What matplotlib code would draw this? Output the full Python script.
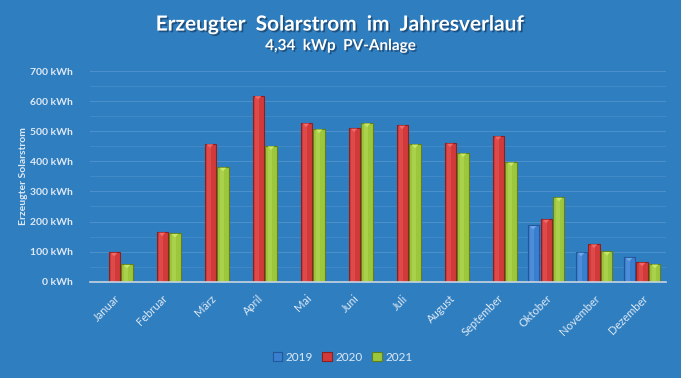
import numpy as np
import matplotlib
matplotlib.use("Agg")
import matplotlib.pyplot as plt
import matplotlib.patheffects as pe

months = ["Januar", "Februar", "März", "April", "Mai", "Juni", "Juli",
          "August", "September", "Oktober", "November", "Dezember"]
years = ["2019", "2020", "2021"]
kwh_2019 = [0, 0, 0, 0, 0, 0, 0, 0, 0, 187, 98, 81]
kwh_2020 = [98, 165, 459, 619, 528, 511, 521, 461, 485, 208, 126, 65]
kwh_2021 = [58, 161, 381, 452, 508, 528, 458, 428, 398, 281, 101, 59]
y_ticks = [0, 100, 200, 300, 400, 500, 600, 700]

bar_colors = ["#3a7fcf", "#d23a3a", "#9cc63c"]
edge_colors = ["#23579a", "#8e1f1f", "#5f7f1e"]
light_colors = ["#6fa8e8", "#f06a6a", "#c8e86a"]
bg = "#2e7ec0"
txt = "#dfe9f5"

plt.rcParams['font.family'] = ['Lato', 'DejaVu Sans']

fig = plt.figure(figsize=(6.81, 3.78), dpi=100, facecolor=bg)
ax = fig.add_axes([0.1322, 0.2548, 0.8458, 0.557])
ax.set_facecolor(bg)

x = np.arange(len(months))
width = 0.23
step = 0.27
for i, vals in enumerate([kwh_2019, kwh_2020, kwh_2021]):
    pos = x + (i - 1) * step
    v = np.array(vals, dtype=float)
    mask = v > 0
    ax.bar(pos[mask], v[mask], width, color=bar_colors[i],
           edgecolor=edge_colors[i], linewidth=0.8, zorder=3,
           label=years[i])
    # light stripe for a bit of shine
    ax.bar(pos[mask] - width * 0.12, v[mask] - 6, width * 0.35,
           color=light_colors[i], alpha=0.35, linewidth=0, zorder=4)
    # small triangle highlight at the top
    for p, h in zip(pos[mask], v[mask]):
        ax.fill([p - width * 0.3, p + width * 0.3, p],
                [h - 2, h - 2, h - 14], color=light_colors[i],
                zorder=5, linewidth=0)

ax.set_xlim(-0.5, 11.5)
ax.set_ylim(0, 700)
ax.set_yticks(y_ticks)
ax.set_yticklabels([f"{t} kWh" for t in y_ticks])
ax.set_yticks(np.arange(50, 700, 100), minor=True)
ax.grid(axis='y', which='major', color='#6aa3d6', linewidth=0.8, alpha=0.5, zorder=0)
ax.grid(axis='y', which='minor', color='#6aa3d6', linewidth=0.8, alpha=0.3, zorder=0)
ax.set_xticks(x)
ax.set_xticklabels(months, rotation=45, ha='right', va='top',
                   rotation_mode='anchor')
ax.tick_params(axis='both', which='both', length=0, colors=txt, labelsize=7.5)
ax.tick_params(axis='x', labelsize=8, pad=8)
ax.tick_params(axis='y', pad=12)
for s in ['top', 'right', 'left']:
    ax.spines[s].set_visible(False)
ax.spines['bottom'].set_color('#c8d4e0')
ax.spines['bottom'].set_linewidth(1.2)
ax.spines['bottom'].set_zorder(6)

for lab in ax.get_yticklabels():
    lab.set_fontweight('bold')

ax.set_ylabel("Erzeugter Solarstrom", color=txt, fontsize=7.5,
              fontweight='bold', labelpad=2)

shadow = [pe.withSimplePatchShadow(offset=(1.2, -1.2), shadow_rgbFace='#1a3c60', alpha=0.7)]
fig.text(0.5, 0.935, "Erzeugter  Solarstrom  im  Jahresverlauf", ha='center',
         va='center', color='white', fontsize=15, fontweight='bold',
         path_effects=shadow)
fig.text(0.5, 0.878, "4,34  kWp  PV-Anlage", ha='center', va='center',
         color='white', fontsize=11, fontweight='bold', path_effects=shadow)

leg = fig.legend(loc='center', bbox_to_anchor=(0.503, 0.055), ncol=3,
                 frameon=False, fontsize=8.5, handlelength=0.8,
                 handleheight=0.8, handletextpad=0.3, columnspacing=0.8,
                 labelcolor=txt)

fig.savefig("out.png", dpi=100, facecolor=bg, edgecolor='#a0a0a0')
